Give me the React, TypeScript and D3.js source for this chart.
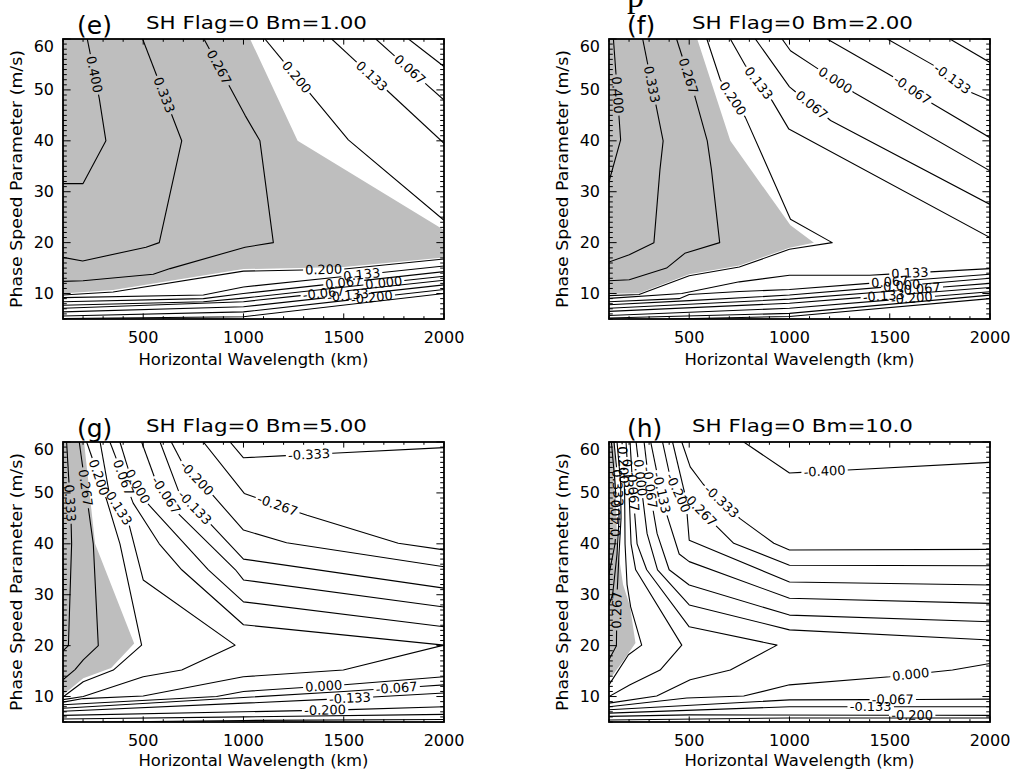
import React from "react";
import * as d3 from "d3";

type Pt = [number, number];
type Contour = { lv: string; p: Pt[]; l?: Pt };

// ---------- axes ----------
const X_DOMAIN: [number, number] = [100, 2000];
const Y_DOMAIN: [number, number] = [5, 60];
const X_MAJOR = [500, 1000, 1500, 2000];
const X_MINOR = d3.range(100, 2001, 100);
const Y_MAJOR = [10, 20, 30, 40, 50, 60];
const Y_MINOR = d3.range(5, 61, 1);

const PANEL_TAGS = ["(e)", "(f)", "(g)", "(h)"];
const PANEL_BM = ["1.00", "2.00", "5.00", "10.0"];
const X_TITLE = "Horizontal Wavelength (km)";
const Y_TITLE = "Phase Speed Parameter (m/s)";

// ---------- panel (e) Bm=1.00 ----------
const E_GRAY: Pt[] = [[100, 60], [1033, 60], [1270, 40], [2000, 22.5], [2000, 17.1], [1500, 15.2], [1000, 14.8], [350, 10.7], [100, 10.0]];
const E_LINES: Contour[] = [
  { lv: "0.400", p: [[221, 60], [281, 48.3], [314, 40], [200, 31.6], [100, 31.6]], l: [250, 53] },
  { lv: "0.333", p: [[497, 60], [692, 40], [580, 20], [514, 19.1], [198, 16.4], [100, 17.1]], l: [605, 49] },
  { lv: "0.267", p: [[803, 60], [1008, 45], [1082, 40], [1149, 20], [1008, 19.1], [634, 14.9], [550, 13.8], [200, 12.5], [100, 12.4]], l: [880, 54.5] },
  { lv: "0.200", p: [[1107, 60], [1523, 40.2], [2000, 24.4]], l: [1265, 52.5] },
  { lv: "0.133", p: [[1440, 60], [2000, 39.5]], l: [1640, 52.7] },
  { lv: "0.067", p: [[1660, 60], [2000, 48]], l: [1830, 54] },
  { lv: "0.000", p: [[1823, 60], [2000, 54.6]] },
  { lv: "0.200", p: [[100, 9.7], [350, 10.3], [1000, 14.4], [1500, 14.8], [2000, 16.8]], l: [1400, 14.7] },
  { lv: "0.133", p: [[100, 9.2], [800, 9.7], [1000, 11.3], [2000, 15.4]], l: [1590, 13.8] },
  { lv: "0.067", p: [[100, 8.4], [800, 9.0], [1000, 10.0], [2000, 14.3]], l: [1500, 12.2] },
  { lv: "0.000", p: [[100, 7.7], [800, 8.4], [1000, 9.1], [2000, 13.4]], l: [1700, 12.1] },
  { lv: "-0.067", p: [[100, 7.1], [1000, 8.4], [2000, 12.6]], l: [1400, 10.1] },
  { lv: "-0.133", p: [[100, 6.4], [1000, 7.4], [2000, 11.7]], l: [1520, 10.1] },
  { lv: "-0.200", p: [[100, 5.6], [1000, 6.4], [2000, 10.8]], l: [1640, 9.3] },
  { lv: "-0.267", p: [[100, 5.1], [1000, 5.45], [2000, 10.0]] },
];

// ---------- panel (f) Bm=2.00 ----------
const F_GRAY: Pt[] = [[100, 60], [540, 60], [705, 40], [1005, 23.4], [1122, 20], [1000, 19.0], [750, 15.5], [500, 13.8], [250, 10.05], [100, 9.95]];
const F_LINES: Contour[] = [
  { lv: "0.400", p: [[122, 60], [135, 53], [158, 40.2], [105, 32.7], [100, 31.8]], l: [145, 49] },
  { lv: "0.333", p: [[268, 60], [370, 40], [354, 34.3], [324, 20], [201, 17.6], [100, 16.2]], l: [305, 51] },
  { lv: "0.267", p: [[437, 60], [530, 48.5], [590, 40], [611, 34.3], [652, 20], [478, 17.9], [387, 15], [201, 12.7], [100, 12.5]], l: [480, 52.5] },
  { lv: "0.200", p: [[588, 60], [655, 52], [780, 44.6], [1005, 24.6], [1213, 20], [1000, 18.7], [750, 15.2], [500, 13.5], [250, 9.8], [100, 9.6]], l: [718, 48.3] },
  { lv: "0.133", p: [[705, 60], [780, 54.8], [913, 47.9], [997, 42.3], [2000, 21.0]], l: [845, 51.3] },
  { lv: "0.067", p: [[830, 60], [1000, 50.6], [1205, 44], [2000, 27.5]], l: [1110, 47] },
  { lv: "0.000", p: [[963, 60], [1005, 57.7], [1321, 49.5], [2000, 34.1]], l: [1230, 52] },
  { lv: "-0.067", p: [[1188, 60], [1520, 52.5], [1705, 47.5], [2000, 40.6]], l: [1612, 50] },
  { lv: "-0.133", p: [[1488, 60], [1720, 54.8], [1905, 49.5], [2000, 47.9]], l: [1812, 52.1] },
  { lv: "-0.200", p: [[1800, 60], [2000, 55.4]] },
  { lv: "0.133", p: [[100, 9.05], [463, 10.0], [750, 12.3], [1000, 13.6], [1400, 13.6], [2000, 14.9]], l: [1600, 14.2] },
  { lv: "0.067", p: [[100, 8.4], [450, 9.0], [500, 9.8], [750, 10.4], [1000, 10.8], [2000, 13.8]], l: [1500, 12.3] },
  { lv: "0.000", p: [[100, 7.8], [500, 8.6], [1000, 9.7], [2000, 13.0]], l: [1560, 11.5] },
  { lv: "-0.067", p: [[100, 7.1], [1000, 8.9], [2000, 12.0]], l: [1650, 11.0] },
  { lv: "-0.133", p: [[100, 6.5], [1000, 8.1], [2000, 11.2]], l: [1470, 9.6] },
  { lv: "-0.200", p: [[100, 5.7], [1000, 7.1], [2000, 10.35]], l: [1610, 9.1] },
  { lv: "-0.267", p: [[100, 5.2], [1000, 6.1], [2000, 9.7]] },
  { lv: "-0.333", p: [[400, 5], [1000, 5.5], [2000, 9.0]] },
];

// ---------- panel (g) Bm=5.00 ----------
const G_GRAY: Pt[] = [[100, 60], [205, 60], [260, 40], [455, 20.4], [340, 15.6], [201, 13.6], [100, 10.3]];
const G_LINES: Contour[] = [
  { lv: "0.333", p: [[118, 60], [140, 45], [143, 40], [127, 20], [100, 19]], l: [136, 48] },
  { lv: "0.267", p: [[181, 60], [251, 40], [276, 20], [201, 17.2], [160, 15.3], [100, 13.3]], l: [212, 51] },
  { lv: "0.200", p: [[218, 60], [318, 48.6], [384, 40], [492, 20.1], [351, 15.2], [201, 12.9], [100, 9.9]], l: [277, 53] },
  { lv: "0.133", p: [[285, 60], [334, 49.2], [424, 44.6], [500, 32.9], [958, 20.1], [692, 15.2], [500, 13.9], [201, 10], [100, 9.4]], l: [379, 47] },
  { lv: "0.067", p: [[334, 60], [450, 48], [580, 40], [692, 34.9], [1000, 24.1], [2000, 20.1], [1498, 15.2], [999, 13.9], [500, 10.1], [201, 9.6], [100, 8.9]], l: [402, 53] },
  { lv: "0.000", p: [[384, 60], [450, 51.5], [520, 48], [825, 34.9], [1000, 28.6], [2000, 23.7]], l: [460, 51] },
  { lv: "-0.067", p: [[492, 60], [594, 49], [668, 46.2], [960, 34.9], [1000, 32.9], [2000, 27.6]], l: [594, 49] },
  { lv: "-0.133", p: [[584, 60], [675, 50.5], [833, 44], [1000, 37], [2000, 31.3]], l: [754, 47] },
  { lv: "-0.200", p: [[640, 60], [693, 56], [848, 49.5], [1000, 42.7], [1215, 40.2], [2000, 35.5]], l: [770, 53] },
  { lv: "-0.267", p: [[800, 60], [1004, 49.9], [1317, 45.6], [1772, 40.1], [2000, 38.8]], l: [1170, 47.6] },
  { lv: "-0.333", p: [[933, 60], [1000, 56.9], [2000, 58.9]], l: [1327, 57.5] },
  { lv: "0.000", p: [[100, 8.4], [866, 10.0], [1000, 11.0], [1500, 12.3], [2000, 13.9]], l: [1400, 12.0] },
  { lv: "-0.067", p: [[100, 7.7], [1000, 9.8], [1500, 11.0], [2000, 12.3]], l: [1764, 11.7] },
  { lv: "-0.133", p: [[100, 7.1], [1000, 8.7], [1500, 9.6], [2000, 10.7]], l: [1531, 9.7] },
  { lv: "-0.200", p: [[100, 6.3], [1000, 7.0], [1500, 7.4], [2000, 8.0]], l: [1407, 7.3] },
  { lv: "-0.267", p: [[100, 5.6], [1000, 6.0], [2000, 6.5]] },
  { lv: "-0.333", p: [[300, 5], [1000, 5.3], [2000, 5.5]] },
];

// ---------- panel (h) Bm=10.0 ----------
const H_GRAY: Pt[] = [[100, 60], [128, 60], [140, 40], [170, 32], [205, 27.7], [232, 20.5], [180, 17.5], [120, 14.3], [100, 13.6]];
const H_LINES: Contour[] = [
  { lv: "0.400", p: [[112, 60], [130, 52], [140, 46], [130, 40], [100, 34]], l: [138, 45] },
  { lv: "0.333", p: [[125, 60], [145, 52], [150, 45], [140, 38], [118, 30], [100, 28]], l: [146, 51] },
  { lv: "0.267", p: [[140, 60], [158, 52], [160, 45], [150, 38], [140, 30], [137, 20], [105, 17.6], [100, 17.2]], l: [139, 27] },
  { lv: "0.200", p: [[165, 60], [178, 50], [180, 40], [190, 32], [208, 27.6], [263, 20.1], [197, 18.2], [100, 12.3]], l: [172, 55.5] },
  { lv: "0.133", p: [[185, 60], [200, 50], [210, 40], [233, 34.9], [463, 20.1], [355, 15.2], [205, 12.3], [100, 10.0]], l: [195, 53] },
  { lv: "0.067", p: [[205, 60], [220, 50], [240, 40], [288, 34.9], [500, 23.7], [938, 20.1], [705, 15.2], [505, 13.3], [338, 10.1], [100, 8.7]], l: [220, 50] },
  { lv: "0.000", p: [[235, 60], [265, 50], [290, 42], [342, 34.9], [500, 28], [1000, 23.1], [2000, 21.1]], l: [255, 53] },
  { lv: "-0.067", p: [[275, 60], [305, 50], [340, 42], [400, 34.9], [500, 31.9], [1000, 26], [2000, 24.7]], l: [302, 51] },
  { lv: "-0.133", p: [[308, 60], [370, 48], [450, 38], [500, 36.5], [1000, 29.3], [2000, 28.3]], l: [360, 50] },
  { lv: "-0.200", p: [[367, 60], [405, 53.1], [488, 46.5], [500, 40.7], [1000, 32.5], [2000, 31.9]], l: [445, 50] },
  { lv: "-0.267", p: [[417, 60], [480, 49.5], [622, 44], [722, 40.1], [1000, 35.8], [2000, 35.7]], l: [551, 46.7] },
  { lv: "-0.333", p: [[463, 60], [505, 55.1], [570, 51.7], [755, 44.9], [922, 40.1], [1000, 38.8], [2000, 38.9]], l: [668, 48.6] },
  { lv: "-0.400", p: [[772, 60], [1000, 53.9], [2000, 56]], l: [1175, 54.3] },
  { lv: "0.000", p: [[100, 8.0], [488, 9.7], [772, 10.1], [1000, 12.3], [1500, 13.9], [1813, 15.2], [2000, 16.5]], l: [1605, 14.3] },
  { lv: "-0.067", p: [[100, 7.4], [1000, 9.35], [1500, 9.4], [2000, 9.5]], l: [1515, 9.4] },
  { lv: "-0.133", p: [[100, 6.75], [1000, 8.0], [2000, 8.0]], l: [1405, 8.0] },
  { lv: "-0.200", p: [[100, 6.1], [500, 6.4], [2000, 6.3]], l: [1612, 6.3] },
  { lv: "-0.267", p: [[100, 5.4], [1000, 5.8], [2000, 5.8]] },
];

// ---------- layout / style ----------
const W = 381;
const H = 280;
const PANEL_POS: Pt[] = [[63, 39], [609, 39], [63, 442], [609, 442]];
const TAG_DX = [14, 18, 14, 18];
const XTITLE_DY = [46, 46, 44, 44];
const FONT = "DejaVu Sans";
const LABEL_FS = 13;

function labelWidth(s: string) {
  let w = 0;
  for (const c of s) w += c === "." ? 0.318 : c === "-" ? 0.40 : 0.636;
  return w * LABEL_FS;
}

function layoutContour(pix: Pt[], anchors: Pt[], widths: number[]) {
  const n = pix.length;
  const cum = [0];
  for (let i = 1; i < n; i++) cum.push(cum[i - 1] + Math.hypot(pix[i][0] - pix[i - 1][0], pix[i][1] - pix[i - 1][1]));
  const total = cum[n - 1];
  const pointAt = (s: number): Pt => {
    s = Math.max(0, Math.min(total, s));
    let i = 0;
    while (i < n - 2 && cum[i + 1] < s) i++;
    const len = cum[i + 1] - cum[i] || 1;
    const t = (s - cum[i]) / len;
    return [pix[i][0] + t * (pix[i + 1][0] - pix[i][0]), pix[i][1] + t * (pix[i + 1][1] - pix[i][1])];
  };
  const gaps: [number, number][] = [];
  const labels: { x: number; y: number; ang: number }[] = [];
  anchors.forEach((a, k) => {
    let best = Infinity;
    let bs = 0;
    for (let i = 0; i < n - 1; i++) {
      const dx = pix[i + 1][0] - pix[i][0];
      const dy = pix[i + 1][1] - pix[i][1];
      const l2 = dx * dx + dy * dy || 1;
      let t = ((a[0] - pix[i][0]) * dx + (a[1] - pix[i][1]) * dy) / l2;
      t = Math.max(0, Math.min(1, t));
      const px = pix[i][0] + t * dx;
      const py = pix[i][1] + t * dy;
      const d = Math.hypot(px - a[0], py - a[1]);
      if (d < best) {
        best = d;
        bs = cum[i] + t * Math.sqrt(l2);
      }
    }
    const w = widths[k];
    bs = Math.max(w / 2, Math.min(total - w / 2, bs));
    const a0 = pointAt(bs - w / 2);
    const a1 = pointAt(bs + w / 2);
    let ang = (Math.atan2(a1[1] - a0[1], a1[0] - a0[0]) * 180) / Math.PI;
    if (ang > 90) ang -= 180;
    if (ang < -90) ang += 180;
    labels.push({ x: (a0[0] + a1[0]) / 2, y: (a0[1] + a1[1]) / 2, ang });
    gaps.push([bs - w / 2 - 2, bs + w / 2 + 2]);
  });
  gaps.sort((a, b) => a[0] - b[0]);
  const sub = (a: number, b: number): Pt[] => {
    const out: Pt[] = [pointAt(a)];
    for (let i = 0; i < n; i++) if (cum[i] > a && cum[i] < b) out.push(pix[i]);
    out.push(pointAt(b));
    return out;
  };
  const segs: Pt[][] = [];
  let cur = 0;
  for (const g of gaps) {
    if (g[0] > cur) segs.push(sub(cur, g[0]));
    cur = Math.max(cur, g[1]);
  }
  if (cur < total) segs.push(sub(cur, total));
  return { segs, labels };
}

function Panel({ idx, gray, lines }: { idx: number; gray: Pt[]; lines: Contour[] }) {
  const [L, T] = PANEL_POS[idx];
  const x = d3.scaleLinear().domain(X_DOMAIN).range([L, L + W]);
  const y = d3.scaleLinear().domain(Y_DOMAIN).range([T + H, T]);
  const toPix = (p: Pt): Pt => [x(p[0]), y(p[1])];
  const line = d3.line<Pt>();
  const clipId = `clip-${idx}`;
  const drawn = lines.map((c) => {
    const anchors = c.l ? [toPix(c.l)] : [];
    const res = layoutContour(c.p.map(toPix), anchors, anchors.map(() => labelWidth(c.lv)));
    return { lv: c.lv, ...res };
  });
  const grayPath = (line(gray.map(toPix)) || "") + "Z";
  const yMajLen = 0.02 * W;
  const xMajLen = 0.02 * H;
  return (
    <g>
      <defs>
        <clipPath id={clipId}>
          <rect x={L} y={T} width={W} height={H} />
        </clipPath>
      </defs>
      <g clipPath={`url(#${clipId})`}>
        <path d={grayPath} fill="#bebebe" stroke="none" />
        {drawn.map((c, i) => (
          <g key={i}>
            {c.segs.map((s, j) => (
              <path key={j} d={line(s) || ""} fill="none" stroke="#000" strokeWidth={1.1} strokeLinejoin="round" />
            ))}
          </g>
        ))}
      </g>
      {drawn.map((c, i) =>
        c.labels.map((lb, j) => (
          <text
            key={`${i}-${j}`}
            x={lb.x}
            y={lb.y}
            transform={`rotate(${lb.ang} ${lb.x} ${lb.y})`}
            textAnchor="middle"
            dominantBaseline="central"
            fontSize={LABEL_FS}
            fontFamily={FONT}
          >
            {c.lv}
          </text>
        ))
      )}
      {Y_MINOR.map((v) => {
        const len = Y_MAJOR.includes(v) ? yMajLen : yMajLen / 2;
        return (
          <g key={`y${v}`} stroke="#000" strokeWidth={1}>
            <line x1={L} x2={L + len} y1={y(v)} y2={y(v)} />
            <line x1={L + W} x2={L + W - len} y1={y(v)} y2={y(v)} />
          </g>
        );
      })}
      {X_MINOR.map((v) => {
        const len = X_MAJOR.includes(v) ? xMajLen : xMajLen / 2;
        return (
          <g key={`x${v}`} stroke="#000" strokeWidth={1}>
            <line x1={x(v)} x2={x(v)} y1={T + H} y2={T + H - len} />
            <line x1={x(v)} x2={x(v)} y1={T} y2={T + len} />
          </g>
        );
      })}
      <rect x={L} y={T} width={W} height={H} fill="none" stroke="#000" strokeWidth={1.8} />
      {Y_MAJOR.map((v) => (
        <text key={`yl${v}`} x={L - 9} y={Math.max(y(v), T + 7)} textAnchor="end" dominantBaseline="central" fontSize={16} fontFamily={FONT}>
          {v}
        </text>
      ))}
      {X_MAJOR.map((v) => (
        <text key={`xl${v}`} x={x(v)} y={T + H + 24} textAnchor="middle" fontSize={16} fontFamily={FONT}>
          {v}
        </text>
      ))}
      <text x={L + W / 2} y={T + H + XTITLE_DY[idx]} textAnchor="middle" fontSize={16} fontFamily={FONT} textLength={230} lengthAdjust="spacingAndGlyphs">
        {X_TITLE}
      </text>
      <text
        x={L - 41}
        y={T + H / 2}
        transform={`rotate(-90 ${L - 41} ${T + H / 2})`}
        textAnchor="middle"
        fontSize={16}
        fontFamily={FONT}
        textLength={258}
        lengthAdjust="spacingAndGlyphs"
      >
        {Y_TITLE}
      </text>
      <text x={L + W / 2 + 3} y={T - 10} textAnchor="middle" fontSize={18} fontFamily={FONT} textLength={221} lengthAdjust="spacingAndGlyphs">
        {`SH Flag=0 Bm=${PANEL_BM[idx]}`}
      </text>
      <text x={L + TAG_DX[idx]} y={T - 5} fontSize={25} fontFamily={FONT}>
        {PANEL_TAGS[idx]}
      </text>
    </g>
  );
}

export default function App() {
  const panels = [
    { gray: E_GRAY, lines: E_LINES },
    { gray: F_GRAY, lines: F_LINES },
    { gray: G_GRAY, lines: G_LINES },
    { gray: H_GRAY, lines: H_LINES },
  ];
  return (
    <svg width={1015} height={771} style={{ position: "absolute", left: 0, top: 0, background: "#fff" }}>
      <rect x={0} y={0} width={1015} height={771} fill="#fff" />
      <text x={627} y={7} fontSize={34} fontFamily="Liberation Serif">
        p
      </text>
      {panels.map((p, i) => (
        <Panel key={i} idx={i} gray={p.gray} lines={p.lines} />
      ))}
    </svg>
  );
}
